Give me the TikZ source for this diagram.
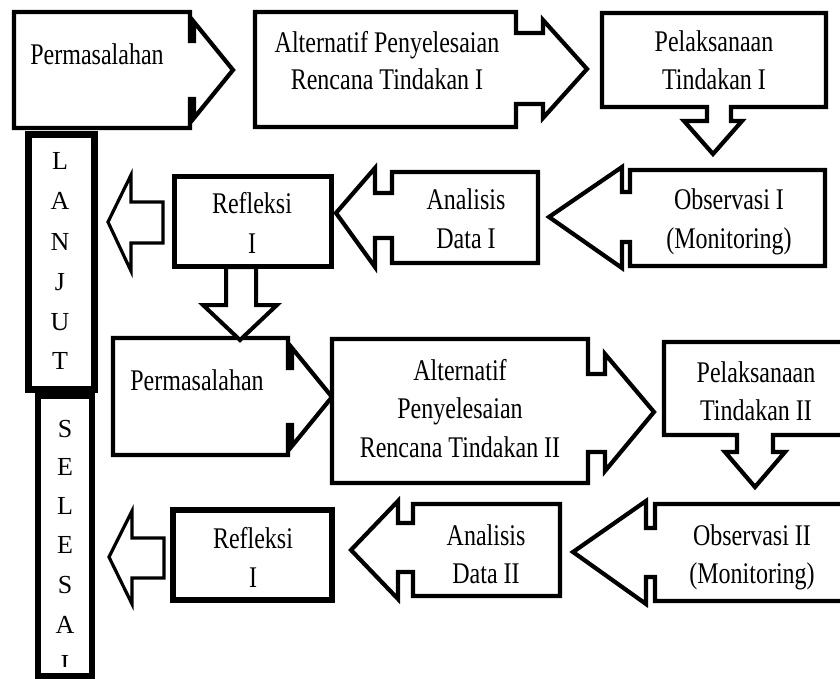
\documentclass[tikz,border=0pt]{standalone}
\usepackage{fontspec}
\setmainfont{Liberation Serif}[FakeStretch=0.8]
\newfontfamily\letterfont{Liberation Serif}
\begin{document}
\begin{tikzpicture}[x=1pt,y=-1pt,
  box/.style={draw=black, line width=4.2pt, line join=miter, fill=white},
  thickbox/.style={box, line width=6pt},
  blockarrow/.style={draw=black, line width=3.2pt, line join=miter, fill=white},
  lbl/.style={anchor=base, inner sep=0pt, font=\fontsize{30}{36}\selectfont},
  vlet/.style={anchor=base, inner sep=0pt, font=\letterfont\fontsize{26}{30}\selectfont}]
\fill[white] (0,0) rectangle (840,679);
\clip (0,0) rectangle (840,679);

% ---- row 1 ----
\draw[box] (14,12) -- (190,12) -- (190,41) -- (194,41) -- (194,22) -- (233,70) -- (194,118) -- (194,99) -- (190,99) -- (190,128) -- (14,128) -- cycle;
\node[lbl] (perm1) at (97,65) {Permasalahan};

\draw[box] (255,12) -- (516,12) -- (516,33) -- (543,33) -- (543,20) -- (587,69) -- (543,118) -- (543,104) -- (516,104) -- (516,127) -- (255,127) -- cycle;
\node[lbl] (alt1a) at (387,53) {Alternatif Penyelesaian};
\node[lbl] (alt1b) at (387,90) {Rencana Tindakan I};

\draw[box] (602,13) -- (826,13) -- (826,107) -- (731,107) -- (731,121) -- (742,121) -- (713,154) -- (684,121) -- (707,121) -- (707,107) -- (602,107) -- cycle;
\node[lbl] (pel1a) at (714,52) {Pelaksanaan};
\node[lbl] (pel1b) at (714,90) {Tindakan I};

% ---- row 2 ----
\draw[box] (825,170) -- (825,266) -- (630,266) -- (630,242) -- (622,242) -- (622,268) -- (549,217) -- (622,167) -- (622,192) -- (630,192) -- (630,170) -- cycle;
\node[lbl] (obs1a) at (729,210) {Observasi I};
\node[lbl] (obs1b) at (729,248) {(Monitoring)};

\draw[box] (538,172) -- (538,263) -- (392,263) -- (392,238) -- (375,238) -- (375,267) -- (336,213) -- (375,168) -- (375,193) -- (392,193) -- (392,172) -- cycle;
\node[lbl] (ana1a) at (466,210) {Analisis};
\node[lbl] (ana1b) at (466,248) {Data I};

\draw[box, line width=5pt] (174,177) rectangle (331,266);
\node[lbl] (ref1a) at (252,213) {Refleksi};
\node[lbl] (ref1b) at (252,253) {I};

\draw[blockarrow] (163,202) -- (163,243) -- (131,243) -- (131,271) -- (108,222) -- (131,175) -- (131,202) -- cycle;

% ---- row 3 ----
\draw[box] (113,338) -- (288,338) -- (288,368) -- (292,368) -- (292,348) -- (332,397) -- (292,446) -- (292,425) -- (288,425) -- (288,455) -- (113,455) -- cycle;
\node[lbl] (perm2) at (197,390) {Permasalahan};

\draw[blockarrow, line width=4pt] (226,267) -- (256,267) -- (256,305) -- (277,305) -- (240,340) -- (203,305) -- (226,305) -- cycle;

\draw[box] (332,339) -- (588,339) -- (588,374) -- (605,374) -- (605,354) -- (654,412) -- (605,471) -- (605,452) -- (588,452) -- (588,483) -- (332,483) -- cycle;
\node[lbl] (alt2a) at (460,380) {Alternatif};
\node[lbl] (alt2b) at (460,418) {Penyelesaian};
\node[lbl] (alt2c) at (460,457) {Rencana Tindakan II};

\draw[box] (850,342) -- (664,342) -- (664,435) -- (737,435) -- (737,452) -- (725,452) -- (755,487) -- (785,452) -- (773,452) -- (773,435) -- (850,435);
\node[lbl] (pel2a) at (756,382) {Pelaksanaan};
\node[lbl] (pel2b) at (756,420) {Tindakan II};

% ---- row 4 ----
\draw[box] (850,504) -- (655,504) -- (655,528) -- (646,528) -- (646,501) -- (573,552) -- (646,604) -- (646,577) -- (655,577) -- (655,601) -- (850,601);
\node[lbl] (obs2a) at (752,545) {Observasi II};
\node[lbl] (obs2b) at (752,583) {(Monitoring)};

\draw[box] (560,504) -- (560,596) -- (413,596) -- (413,572) -- (398,572) -- (398,599) -- (351,550) -- (398,501) -- (398,523) -- (413,523) -- (413,504) -- cycle;
\node[lbl] (ana2a) at (486,545) {Analisis};
\node[lbl] (ana2b) at (486,583) {Data II};

\draw[thickbox] (173,510) rectangle (332,600);
\node[lbl] (ref2a) at (253,548) {Refleksi};
\node[lbl] (ref2b) at (253,587) {I};

\draw[blockarrow] (164,538) -- (164,578) -- (132,578) -- (132,604) -- (109,557) -- (132,511) -- (132,538) -- cycle;

% ---- side columns ----
\draw[box, line width=6pt] (38,396) rectangle (92,676);
\draw[box, line width=7pt] (28,135) rectangle (94,389);
\node[vlet] (l1) at (60,170) {L};
\node[vlet] (l2) at (60,210) {A};
\node[vlet] (l3) at (60,250) {N};
\node[vlet] (l4) at (60,290) {J};
\node[vlet] (l5) at (60,330) {U};
\node[vlet] (l6) at (60,369) {T};

\node[vlet] (s1) at (65,437) {S};
\node[vlet] (s2) at (65,475) {E};
\node[vlet] (s3) at (65,514) {L};
\node[vlet] (s4) at (65,553) {E};
\node[vlet] (s5) at (65,593) {S};
\node[vlet] (s6) at (65,633) {A};
\begin{scope}
\clip (45,640) rectangle (85,666);
\node[vlet] (s7) at (65,672) {I};
\end{scope}
\end{tikzpicture}
\end{document}
